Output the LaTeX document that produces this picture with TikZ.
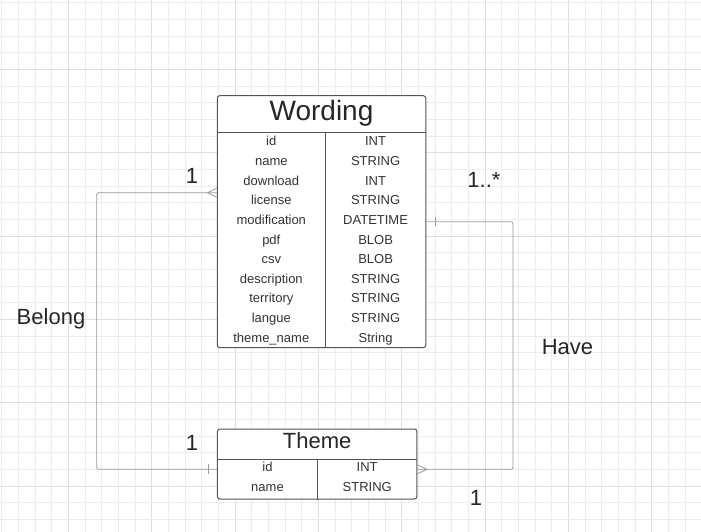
\documentclass[tikz,border=0pt]{standalone}
\usepackage{fontspec}
\setmainfont{Liberation Sans}
\begin{document}
\begin{tikzpicture}[x=1pt,y=-1pt,
  minorgrid/.style={draw=black!7, line width=1pt},
  majorgrid/.style={draw=black!13, line width=1pt},
  entity/.style={draw=black!67, line width=1pt, fill=white, rounded corners=2.5pt, inner sep=0pt},
  sep/.style={draw=black!67, line width=1pt},
  conn/.style={draw=black!40, line width=0.8pt, rounded corners=2pt},
  endmark/.style={draw=black!40, line width=0.8pt},
  cell/.style={anchor=base, inner sep=0pt, text=black!80, font=\fontsize{13}{15}\selectfont},
  title/.style={anchor=base, inner sep=0pt, text=black!85},
  lbl/.style={anchor=base, inner sep=0pt, text=black!85, font=\fontsize{22}{26}\selectfont}]
\useasboundingbox (0,0) rectangle (701,532);
\fill[white] (0,0) rectangle (701,532);
% grid
\foreach \k in {0,...,42}{
  \pgfmathsetmacro{\xx}{1.7+16.667*\k}
  \pgfmathtruncatemacro{\mm}{mod(\k,5)}
  \ifnum\mm=4 \draw[majorgrid] (\xx,0) -- (\xx,532); \else \draw[minorgrid] (\xx,0) -- (\xx,532); \fi
}
\foreach \k in {0,...,31}{
  \pgfmathsetmacro{\yy}{2.7+16.667*\k}
  \pgfmathtruncatemacro{\mm}{mod(\k,5)}
  \ifnum\mm=4 \draw[majorgrid] (0,\yy) -- (701,\yy); \else \draw[minorgrid] (0,\yy) -- (701,\yy); \fi
}
% Wording entity
\node[entity, minimum width=208.5pt, minimum height=252pt] (wording) at (321.5,221.7) {};
\draw[sep] (wording.west |- 0,132.7) coordinate (wh) -- (wording.east |- 0,132.7);
\draw[sep] (325.3,132.7) coordinate (wd) -- (wd |- wording.south);
\node[title, font=\fontsize{28}{32}\selectfont] (wtitle) at (321.5,120.5) {Wording};
\foreach \n/\t [count=\i from 0] in {id/INT,name/STRING,download/INT,license/STRING,modification/DATETIME,pdf/BLOB,csv/BLOB,description/STRING,territory/STRING,langue/STRING,theme\_name/String}{
  \pgfmathsetmacro{\yy}{145.7+19.66*\i}
  \node[cell] (wn\i) at (271.3,\yy) {\n};
  \node[cell] (wt\i) at (375.6,\yy) {\t};
}
% Theme entity
\node[entity, minimum width=199.5pt, minimum height=70pt] (theme) at (317.2,464) {};
\draw[sep] (theme.west |- 0,459.3) -- (theme.east |- 0,459.3);
\draw[sep] (317.7,459.3) coordinate (td) -- (td |- theme.south);
\node[title, font=\fontsize{22}{26}\selectfont] (ttitle) at (317.2,448.3) {Theme};
\node[cell] (tn0) at (267.5,471.7) {id};
\node[cell] (tt0) at (367.2,471.7) {INT};
\node[cell] (tn1) at (267.5,491.3) {name};
\node[cell] (tt1) at (367.2,491.3) {STRING};
% connector coordinates
\coordinate (bw) at (wording.west |- 0,192.7);
\coordinate (bt) at (theme.west |- 0,469.3);
\coordinate (hw) at (wording.east |- 0,221.7);
\coordinate (ht) at (theme.east |- 0,469.3);
% Belong connector
\draw[conn] (bw) -- (96.7,192.7) -- (96.7,469.3) -- (bt);
\draw[endmark] (bw) ++(0,-4.5) -- ++(-9.2,4.5) -- ++(9.2,4.5);
\draw[endmark] (bt) ++(-9,-5) -- ++(0,10);
% Have connector
\draw[conn] (hw) -- (513,221.7) -- (513,469.3) -- (ht);
\draw[endmark] (hw) ++(9,-4.5) -- ++(0,9);
\draw[endmark] (ht) ++(0,-4.5) -- ++(9.5,4.5) -- ++(-9.5,4.5);
% labels
\node[lbl] (l1) at (192,183) {1};
\node[lbl] (l2) at (484,187.5) {1..*};
\node[lbl] (l3) at (51,324.3) {Belong};
\node[lbl] (l4) at (567.5,354.3) {Have};
\node[lbl] (l5) at (192,450) {1};
\node[lbl] (l6) at (476,505) {1};
\end{tikzpicture}
\end{document}
